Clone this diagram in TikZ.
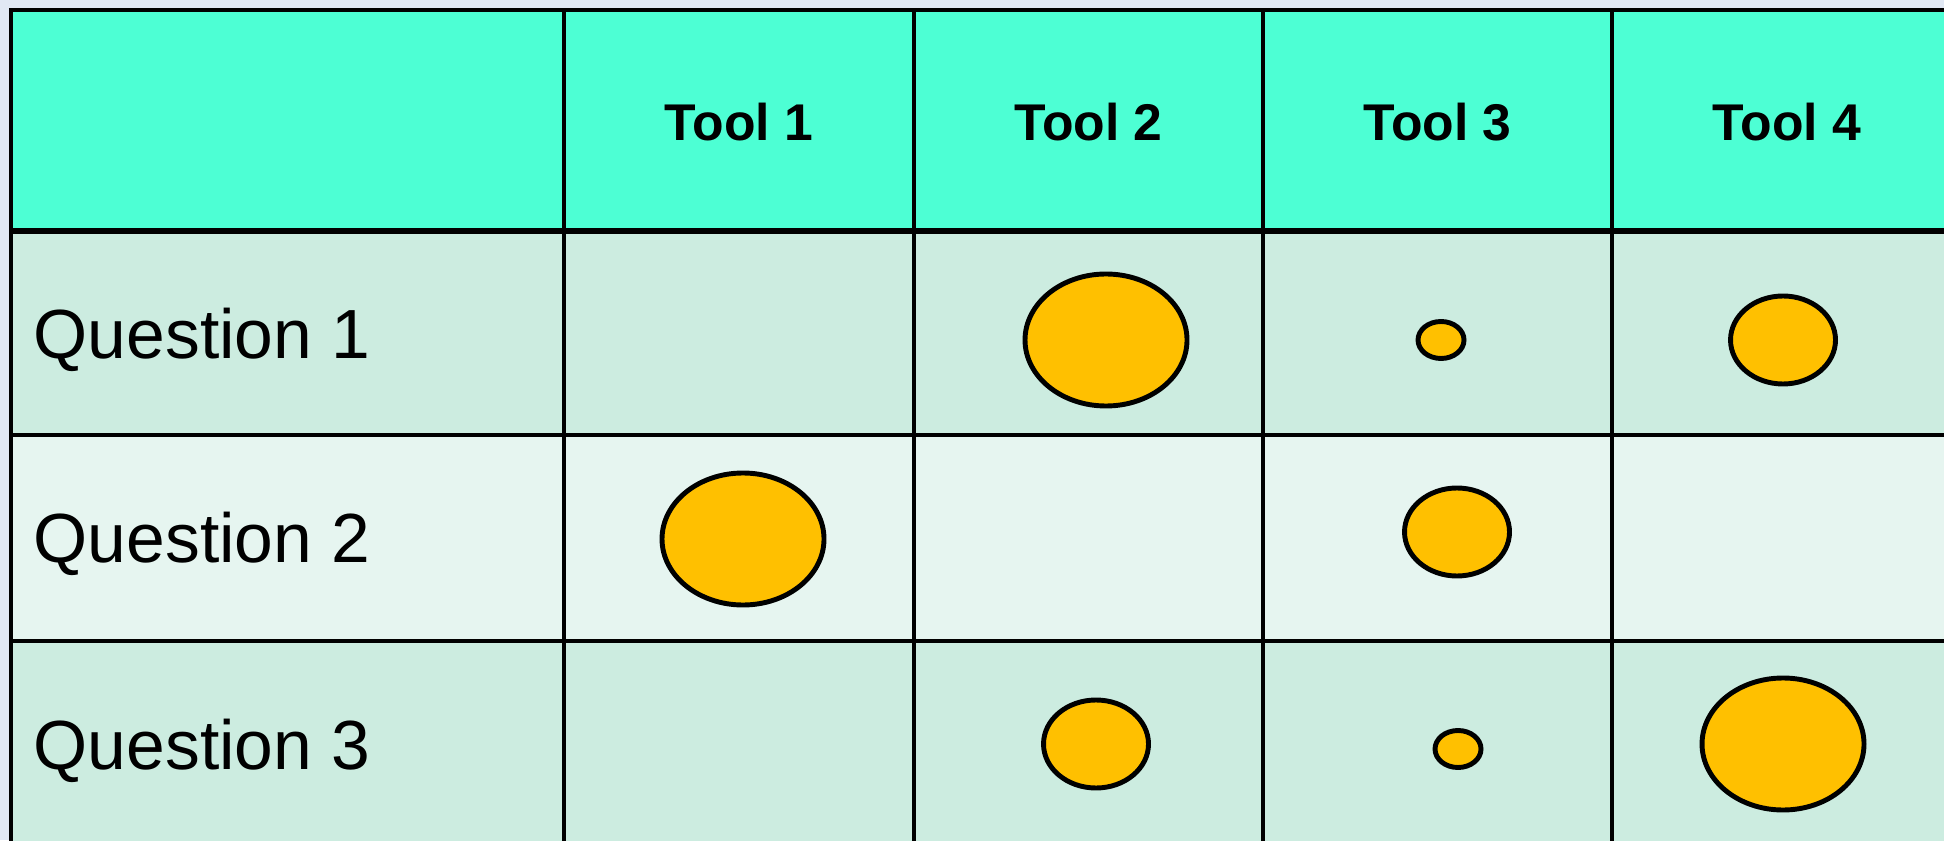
\documentclass[tikz,border=0pt]{standalone}
\usepackage{fontspec}
\setmainfont{Liberation Sans}
\usetikzlibrary{shapes.geometric}
\definecolor{pagebg}{RGB}{225,232,244}
\definecolor{headfill}{RGB}{77,255,212}
\definecolor{rowdark}{RGB}{204,236,224}
\definecolor{rowlight}{RGB}{230,245,240}
\definecolor{dotfill}{RGB}{255,192,0}
\begin{document}
\begin{tikzpicture}[
	tool/.style={font=\bfseries\fontsize{14.7}{18}\selectfont, anchor=base, inner sep=0pt},
	question/.style={font=\fontsize{19.8}{23}\selectfont, anchor=base west, inner sep=0pt},
	grid/.style={line width=1pt},
	dot/.style={ellipse, draw, line width=1.4pt, fill=dotfill, inner sep=0pt},
	dotbig/.style={dot, minimum width=1.62cm, minimum height=1.32cm},
	dotmedium/.style={dot, minimum width=1.05cm, minimum height=0.88cm},
	dotsmall/.style={dot, minimum width=0.46cm, minimum height=0.37cm}
	]
				\fill[pagebg] (0, 0) rectangle (19.44, 8.40);
				\useasboundingbox (0, 0) rectangle (19.44, 8.40);
				\clip (0, 0) rectangle (19.44, 8.40);
				
				\coordinate (A) at (0.11, 8.30);
				\coordinate (B) at (19.6, 8.30);
				\coordinate (C) at (0.11, 6.09);
				\coordinate (D) at (19.6, 6.09);
				\coordinate (E) at (0.11, 4.05);
				\coordinate (F) at (19.6, 4.05);
				\coordinate (G) at (0.11, 1.99);
				\coordinate (H) at (19.6, 1.99);
				\coordinate (I) at (0.11, -0.1);
				\coordinate (J) at (19.6, -0.1);
				
				% rows
				\fill[headfill] (C) rectangle (B);
				\fill[rowdark] (E) rectangle (D);
				\fill[rowlight] (G) rectangle (F);
				\fill[rowdark] (I) rectangle (H);
				
				% lines
				\draw[grid] (I) -- (A) -- (B);
				\draw[line width=1.5pt] (C) -- (D);
				\draw[grid] (E) -- (F);
				\draw[grid] (G) -- (H);
				\draw[grid] (5.64, -0.1) -- (5.64, 8.30);
				\draw[grid] (9.14, -0.1) -- (9.14, 8.30);
				\draw[grid] (12.63, -0.1) -- (12.63, 8.30);
				\draw[grid] (16.12, -0.1) -- (16.12, 8.30);
				
				\node[tool] (t1) at (7.39, 6.99) {Tool 1};
				\node[tool] (t2) at (10.885, 6.99) {Tool 2};
				\node[tool] (t3) at (14.375, 6.99) {Tool 3};
				\node[tool] (t4) at (17.87, 6.99) {Tool 4};
				
				\node[question] (q1) at (0.33, 4.81) {Question 1};
				\node[question] (q2) at (0.33, 2.775) {Question 2};
				\node[question] (q3) at (0.33, 0.705) {Question 3};
				
				\node[dotbig] (e12) at (11.06, 5.00) {};
				\node[dotsmall] (e13) at (14.41, 5.00) {};
				\node[dotmedium] (e14) at (17.83, 5.00) {};
				\node[dotbig] (e21) at (7.43, 3.01) {};
				\node[dotmedium] (e23) at (14.57, 3.08) {};
				\node[dotmedium] (e32) at (10.96, 0.96) {};
				\node[dotsmall] (e33) at (14.58, 0.91) {};
				\node[dotbig] (e34) at (17.83, 0.96) {};
				\end{tikzpicture}
\end{document}
